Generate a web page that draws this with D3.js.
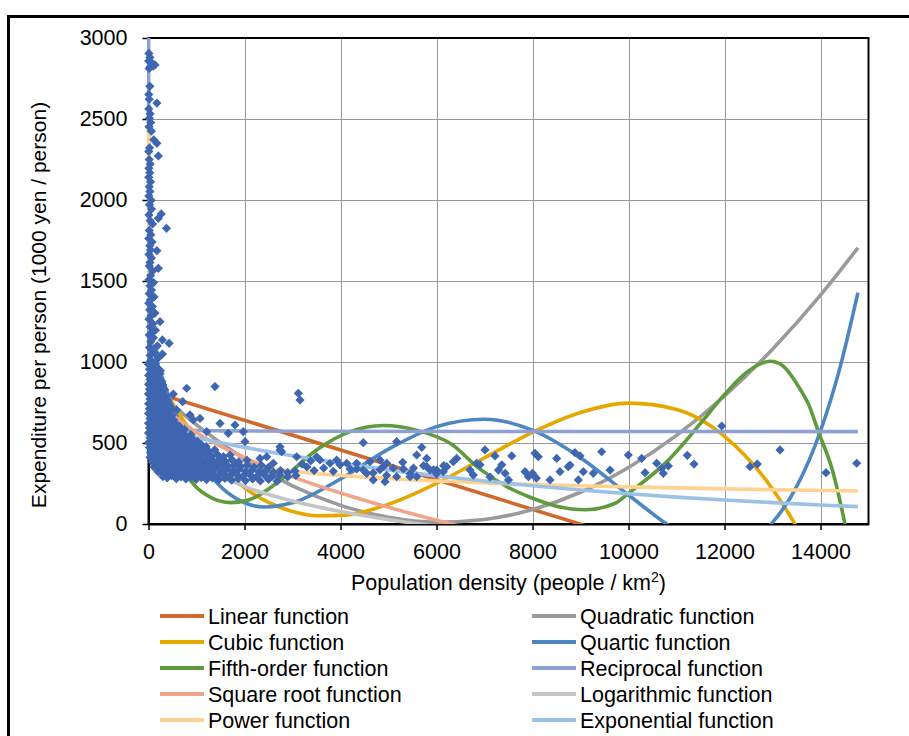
<!DOCTYPE html>
<html>
<head>
<meta charset="utf-8">
<script src="https://cdn.jsdelivr.net/npm/d3@7"></script>
<style>
  body { margin: 0; background: #fff; }
  svg text { font-family: "Liberation Sans", Arial, sans-serif; fill: #000; }
</style>
</head>
<body>
<svg id="chart" width="909" height="736"></svg>
<script>
// ---- Axis ticks ----
const xTicks = [0, 2000, 4000, 6000, 8000, 10000, 12000, 14000];
const yTicks = [0, 500, 1000, 1500, 2000, 2500, 3000];

// ---- Municipalities: [population density, expenditure per person] ----
const spinePoints = [
  [8,2905],[30,2880],[4,2858],[70,2846],[135,2834],[40,2822],[12,2812],[95,2826],
  [28,2702],[6,2652],[14,2622],[175,2598],[6,2562],[32,2532],[18,2505],[45,2478],[10,2452],[60,2425],
  [110,2372],[175,2350],[22,2322],[6,2300],[205,2272],[15,2250],[35,2222],[8,2196],[26,2168],[5,2140],
  [42,2112],[16,2082],[30,2052],[8,2024],[55,1998],[20,1970],[62,1944],[265,1914],[10,1908],[205,1887],
  [36,1872],[375,1825],[85,1852],[16,1812],[48,1786],[5,1762],[75,1740],[26,1718],[175,1687],[42,1692],
  [10,1664],[62,1642],[30,1614],[205,1578],[16,1592],[85,1562],[46,1534],[10,1508],[105,1490],[30,1470],
  [62,1444],[15,1422],[115,1402],[40,1382],[5,1362],[82,1342],[24,1322],[135,1302],[50,1284],[10,1264],
  [240,1249],[92,1236],[35,1216],[145,1196],[62,1180],[15,1166],[290,1136],[430,1115],[102,1150],[46,1126],
  [185,1100],[20,1090],[290,1049],[76,1076],[132,1060],[35,1040],[205,1026],[56,1010],[10,996],[112,986],
  [162,966],[40,956],[250,946],[82,932],[20,922]
];

const bodyPoints = [
  [0,985],[55,972],[140,990],[22,955],[100,944],[195,958],[4,918],[70,925],[150,912],[240,928],
  [30,892],[112,884],[188,898],[280,880],[2,862],[62,855],[140,868],[222,850],[300,858],
  [20,832],[92,825],[170,838],[252,822],[335,830],[795,838],[1385,848],
  [0,802],[60,795],[130,808],[212,790],[282,800],[360,788],[517,802],
  [30,772],[100,765],[172,778],[240,760],[312,770],[390,762],[712,755],
  [2,742],[60,735],[130,746],[200,730],[272,740],[342,728],[420,738],
  [20,712],[90,705],[160,718],[232,700],[300,710],[372,698],[450,706],[448,724],[587,704],
  [0,682],[60,675],[130,688],[200,670],[270,680],[340,668],[412,678],[490,670],[865,673],
  [30,652],[100,645],[170,658],[240,640],[310,650],[380,638],[452,648],[530,640],[933,642],[1073,652],
  [0,622],[60,615],[130,628],[200,610],[270,620],[340,608],[410,618],[480,606],[560,616],[640,604],[1490,621],[1802,611],
  [20,592],[90,585],[160,598],[230,580],[300,590],[370,578],[440,588],[510,576],[590,586],[670,574],[750,584],
  [0,562],[60,555],[130,568],[200,550],[270,560],[340,548],[410,558],[480,546],[550,556],[630,544],[710,554],
  [790,542],[880,552],[1212,570],[1662,560],[1975,570],
  [30,532],[100,525],[170,538],[240,520],[310,530],[380,518],[450,528],[520,516],[600,526],[680,514],[760,524],
  [840,512],[930,522],[1020,510],
  [0,502],[70,495],[140,508],[210,490],[280,500],[350,488],[420,498],[500,486],[580,496],[660,484],[740,494],
  [830,482],[920,492],[1010,480],[1100,490],[1200,478],[2010,508],
  [20,472],[90,465],[160,478],[230,460],[300,470],[380,458],[460,468],[540,456],[620,466],[700,454],[790,464],
  [880,452],[970,462],[1060,450],[1160,460],[1260,448],[1380,458],[2740,477],[2775,446],
  [40,442],[110,435],[180,448],[250,430],[330,440],[410,428],[490,438],[570,426],[650,436],[740,424],[830,434],
  [920,422],[1010,432],[1110,420],[1210,430],[1320,418],[1440,428],[1560,416],[1700,426],[2740,457],
  [30,412],[100,405],[170,418],[250,400],[330,410],[410,398],[490,408],[570,396],[660,406],[750,394],[840,404],
  [930,392],[1030,402],[1130,390],[1240,400],[1350,388],[1470,398],[1600,386],[1740,396],[1880,384],[2050,394],
  [2323,405],[2463,415],[3087,415],
  [80,382],[150,375],[230,388],[310,370],[390,380],[470,368],[550,378],[640,366],[730,376],[820,364],[910,374],
  [1000,362],[1100,372],[1200,360],[1310,370],[1420,358],[1540,368],[1660,356],[1790,366],[1920,354],[2060,364],
  [2200,352],[2350,362],[2500,350],[2600,375],
  [110,352],[190,345],[270,358],[350,340],[430,350],[510,338],[600,348],[690,336],[780,346],[870,334],[960,344],
  [1060,332],[1160,342],[1270,330],[1380,340],[1500,328],[1620,338],[1750,326],[1880,336],[2020,324],[2160,334],
  [2300,322],[2450,332],[2600,320],[2750,330],[2900,318],[3050,328],
  [200,322],[280,315],[360,328],[450,310],[540,320],[630,308],[720,318],[810,306],[910,316],[1010,304],[1110,314],
  [1220,302],[1330,312],[1450,300],[1570,310],[1700,298],[1830,308],[1970,296],[2110,306],[2260,294],[2410,304],
  [2570,292],[2730,302],[2900,290],[3070,300],
  [300,292],[390,285],[480,298],[580,280],[680,290],[780,278],[880,288],[990,276],[1100,286],[1210,274],[1330,284],
  [1460,272],[1590,282],[1730,270],[1870,280],[2020,268],[2170,278],[2330,266],[2500,276],[2680,264]
];

const spreadPoints = [
  [3121,807],[3156,765],
  [3504,415],[3573,395],[3781,375],[3920,395],[3990,365],[4130,375],[4200,340],[4340,340],[3300,352],[3450,330],
  [3650,345],[3200,370],[3380,390],[3850,325],
  [4475,502],[5170,508],[5692,473],[5588,426],[5796,405],[5296,381],[4337,375],[4475,333],[4545,313],[4615,385],
  [4823,395],[4891,354],[4963,375],[4683,272],[4927,261],[5170,292],[5448,292],[5588,292],[5796,354],[5865,333],
  [6004,333],[6142,323],[6213,354],[6350,385],[6421,405],[6698,333],[6767,302],[6838,375],[6906,365],[7010,457],
  [7219,420],[7115,290],[7290,333],[7360,365],[7430,313],[7500,272],[7567,420],[7845,323],[7915,292],[8000,313],
  [8080,283],[8052,436],[8121,415],[8365,272],[8504,405],[8573,323],[8746,354],[8781,364],[8885,440],[8990,420],
  [8955,272],[9059,323],[9267,313],[9441,446],[9615,333],[9996,426],
  [4680,315],[4820,335],[4960,300],[5100,345],[5310,340],[5450,310],[5520,345],[5730,360],[5940,335],[6000,310],[6150,360],
  [10274,405],[10344,317],[10587,375],[10691,344],[10725,313],[10830,358],[11225,424],[11365,370],[11942,605],
  [12531,354],[12683,370],[13156,457],[14115,317],[14754,375]
];

// ---- Fitted curves over the data range: [population density, fitted expenditure] ----
const linearFit = [[3,823],[14780,-531]];
const quadraticFit = [[3,868],[1000,612],[2000,401],[3000,235],[4000,115],[5000,41],[6000,11],[7000,28],
  [8000,89],[9000,196],[10000,349],[11000,547],[12000,790],[13000,1079],[14000,1413],[14780,1705]];
const cubicFit = [[3,1013],[500,744],[1000,525],[1500,353],[2000,223],[2500,133],[3000,77],[3500,51],[4000,53],
  [5000,122],[6000,251],[7000,409],[8000,566],[9000,688],[10000,746],[11000,707],[12000,541],[13000,216],
  [13500,-17],[14000,-300],[14780,-855]];
const quarticFit = [[3,1176],[250,933],[500,729],[1000,422],[1500,231],[2000,131],[2400,105],[3000,131],[4000,278],
  [5000,462],[6000,601],[7000,647],[8000,579],[9000,409],[10000,179],[11000,-39],[11500,-111],[12000,-140],
  [12500,-106],[13000,10],[13500,229],[14000,574],[14400,959],[14780,1428]];
const fifthFit = [[3,1010],[250,760],[600,430],[870,272],[1200,180],[1700,132],[2100,150],[2800,282],[3500,457],
  [4200,570],[4900,608],[5600,578],[6300,495],[6900,340],[7500,225],[7950,165],[8500,110],[9100,88],[9700,125],
  [10000,190],[10800,385],[11500,621],[11900,765],[12500,945],[12950,1005],[13200,980],[13570,835],[13750,740],
  [13950,575],[14250,330],[14510,0],[14780,-420]];
const reciprocalFit = [[3,3003],[3.5,2656],[4,2395],[5,2030],[7,1613],[10,1300],[15,1057],[25,862],[40,752],
  [70,674],[120,631],[200,606],[400,588],[800,579],[1500,575],[3000,572.4],[7000,571],[14780,570.5]];
const sqrtFit = [[3,918],[100,821],[250,752],[500,675],[1000,565],[2000,410],[3000,291],[4000,191],[5000,103],
  [6000,23],[7000,-51],[8000,-119],[10000,-244],[14780,-499]];
const logFit = [[3,1689],[5,1574],[10,1419],[50,1059],[100,903],[250,698],[500,543],[1000,388],[2000,232],
  [3000,142],[4000,77],[5000,27],[6000,-14],[8000,-78],[14780,-216]];
const powerFit = [[3,2486],[5,2139],[10,1744],[30,1263],[100,887],[500,553],[1000,451],[2000,367],[3000,326],
  [5000,281],[7000,254],[10000,229],[12000,217],[14780,204]];
const exponentialFit = [[3,597],[1000,532],[2000,473],[3000,421],[4000,375],[5000,334],[6000,297],[7000,265],
  [8000,236],[9000,210],[10000,187],[11000,166],[12000,148],[13000,132],[14000,117],[14780,107]];

const fitNames = ["Linear function","Quadratic function","Cubic function","Quartic function",
  "Fifth-order function","Reciprocal function","Square root function","Logarithmic function",
  "Power function","Exponential function"];
const fitColors = ["#D2692C","#9A9A9A","#E5A800","#4C87C1","#5F9B3C","#8EA1D6","#F1A489","#C4C4C4","#FFD38F","#9CC1E6"];
const fits = [linearFit, quadraticFit, cubicFit, quarticFit, fifthFit, reciprocalFit, sqrtFit, logFit, powerFit, exponentialFit];

// ---- Layout ----
const svg = d3.select("#chart");
const plot = {left: 148.5, right: 868.5, top: 38, bottom: 524};
const x = d3.scaleLinear().domain([0, 15000]).range([plot.left, plot.right]);
const y = d3.scaleLinear().domain([0, 3000]).range([plot.bottom, plot.top]);
const FONT = 21.5;

// outer chart border
svg.append("rect").attr("x", 8.5).attr("y", 16.5).attr("width", 1000).attr("height", 1000)
  .attr("fill", "none").attr("stroke", "#000").attr("stroke-width", 3);

// gridlines
const grid = svg.append("g").attr("stroke", "#999").attr("stroke-width", 1).attr("shape-rendering", "crispEdges");
grid.selectAll(".gx").data(xTicks.slice(1)).join("line")
  .attr("x1", d => Math.round(x(d)) + 0.5).attr("x2", d => Math.round(x(d)) + 0.5)
  .attr("y1", plot.top).attr("y2", plot.bottom);
grid.selectAll(".gy").data(yTicks.slice(1)).join("line")
  .attr("y1", d => Math.round(y(d)) + 0.5).attr("y2", d => Math.round(y(d)) + 0.5)
  .attr("x1", plot.left).attr("x2", plot.right);

// plot frame
svg.append("rect").attr("x", plot.left).attr("y", plot.top)
  .attr("width", plot.right - plot.left).attr("height", plot.bottom - plot.top)
  .attr("fill", "none").attr("stroke", "#000").attr("stroke-width", 2);

// axes (drawn beneath the data)
const xAxis = svg.append("g").attr("transform", `translate(0,${plot.bottom})`)
  .call(d3.axisBottom(x).tickValues(xTicks).tickSize(6).tickSizeOuter(0).tickPadding(14).tickFormat(d3.format("d")));
const yAxis = svg.append("g").attr("transform", `translate(${plot.left},0)`)
  .call(d3.axisLeft(y).tickValues(yTicks).tickSize(6).tickSizeOuter(0).tickPadding(15).tickFormat(d3.format("d")));
[xAxis, yAxis].forEach(g => {
  g.select(".domain").attr("stroke", "#000").attr("stroke-width", 2);
  g.selectAll(".tick line").attr("stroke", "#000").attr("stroke-width", 1.5);
  g.selectAll(".tick text").attr("font-size", FONT).attr("font-family", "Liberation Sans, Arial, sans-serif").attr("fill", "#000");
});

// clip region for trend curves
svg.append("clipPath").attr("id", "plotClip").append("rect")
  .attr("x", plot.left - 2).attr("y", plot.top).attr("width", plot.right - plot.left + 2).attr("height", plot.bottom - plot.top);

const line = d3.line().x(d => x(d[0])).y(d => y(d[1])).curve(d3.curveMonotoneX);
const curves = svg.append("g").attr("clip-path", "url(#plotClip)");
fits.forEach((pts, i) => {
  curves.append("path").attr("d", line(pts)).attr("fill", "none")
    .attr("stroke", fitColors[i]).attr("stroke-width", 3.6).attr("stroke-linejoin", "round");
});

// scatter markers (diamonds)
const allPoints = spinePoints.concat(bodyPoints, spreadPoints);
const r = 4.6;
svg.append("g").selectAll("path").data(allPoints).join("path")
  .attr("d", `M0,${-r}L${r},0L0,${r}L${-r},0Z`)
  .attr("transform", d => `translate(${x(d[0])},${y(d[1])})`)
  .attr("fill", "#3F66B0");

// axis titles
const xTitle = svg.append("text").attr("x", (plot.left + plot.right) / 2).attr("y", 590)
  .attr("text-anchor", "middle").attr("font-size", FONT);
xTitle.append("tspan").text("Population density (people / km");
xTitle.append("tspan").attr("font-size", 14).attr("dy", -8).text("2");
xTitle.append("tspan").attr("dy", 8).text(")");

svg.append("text").attr("transform", "translate(46,305) rotate(-90)")
  .attr("text-anchor", "middle").attr("font-size", 21)
  .text("Expenditure per person (1000 yen / person)");

// legend
const legend = svg.append("g");
fitNames.forEach((name, i) => {
  const col = i % 2, row = Math.floor(i / 2);
  const lx = col === 0 ? 160 : 532;
  const ly = 616 + row * 26;
  legend.append("line").attr("x1", lx).attr("x2", lx + 44).attr("y1", ly).attr("y2", ly)
    .attr("stroke", fitColors[i]).attr("stroke-width", 4);
  legend.append("text").attr("x", lx + 48).attr("y", ly).attr("dy", "0.35em")
    .attr("font-size", FONT).text(name);
});
</script>
</body>
</html>
